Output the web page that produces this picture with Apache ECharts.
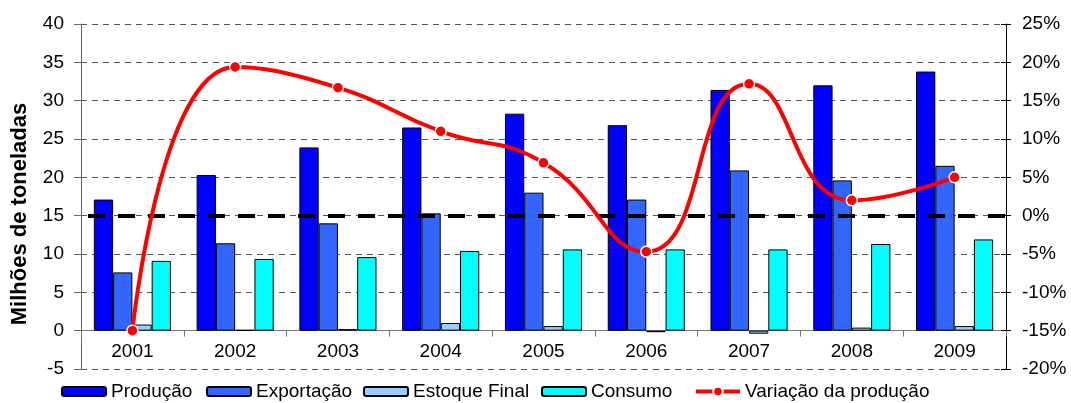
<!DOCTYPE html>
<html>
<head>
<meta charset="utf-8">
<script src="https://cdn.jsdelivr.net/npm/echarts@6/dist/echarts.min.js"></script>
<style>
  html, body { margin: 0; padding: 0; background: #fff; }
  #chart { width: 1071px; height: 403px; }
</style>
</head>
<body>
<div id="chart"></div>
<script>
// Anos
const years = ['2001', '2002', '2003', '2004', '2005', '2006', '2007', '2008', '2009'];
// Milhões de toneladas
const producao   = [17.1, 20.3, 23.9, 26.5, 28.3, 26.8, 31.4, 32.0, 33.8];
const exportacao = [7.6, 11.4, 14.0, 15.3, 18.0, 17.1, 20.9, 19.6, 21.5];
const estoque    = [0.8, 0.1, 0.2, 1.0, 0.6, -0.2, -0.4, 0.4, 0.6];
const consumo    = [9.1, 9.35, 9.6, 10.4, 10.6, 10.6, 10.6, 11.3, 11.9];
// Variação anual da produção (%)
const variacao   = [-15.0, 19.4, 16.7, 11.0, 6.9, -4.7, 17.2, 2.0, 5.0];

const FONT = '"Liberation Sans", Arial, sans-serif';
const GRID_TOP = 24, GRID_BOTTOM = 34, HEIGHT = 403;
const LEFT_MIN = -5, LEFT_MAX = 40;
// the category axis sits on the zero line of the left axis
const plotH = HEIGHT - GRID_TOP - GRID_BOTTOM;
const zeroLift = plotH * (0 - LEFT_MIN) / (LEFT_MAX - LEFT_MIN);

const chart = echarts.init(document.getElementById('chart'), null, { renderer: 'canvas' });

function barSeries(name, data, color) {
  return {
    name, type: 'bar', data, yAxisIndex: 0,
    barGap: '0%', barCategoryGap: '25%',
    itemStyle: { color, borderColor: '#000', borderWidth: 1 },
    z: 2
  };
}

function legendAt(name, left, extra) {
  return Object.assign({
    data: [name], left, top: 382, itemWidth: 44, itemHeight: 9, itemGap: 6,
    padding: 0,
    textStyle: { fontFamily: FONT, fontSize: 19, color: '#000' }
  }, extra || {});
}

chart.setOption({
  animation: false,
  backgroundColor: '#fff',
  grid: { left: 81, right: 65, top: GRID_TOP, bottom: GRID_BOTTOM, containLabel: false },
  legend: [
    legendAt('Produção', 61),
    legendAt('Exportação', 206),
    legendAt('Estoque Final', 363),
    legendAt('Consumo', 541),
    legendAt('Variação da produção', 694, {
      itemHeight: 12,
      lineStyle: { width: 4, color: '#FF0000' }
    })
  ],
  graphic: [{
    type: 'text', x: 20, y: 214, rotation: Math.PI / 2,
    style: {
      text: 'Milhões de toneladas', fill: '#000',
      font: 'bold 22px ' + FONT, textAlign: 'center', textVerticalAlign: 'middle'
    }
  }],
  xAxis: {
    type: 'category', data: years, position: 'bottom', offset: -zeroLift,
    axisLine: { onZero: false, lineStyle: { color: '#777', width: 1 } },
    axisTick: { show: true, length: 6, lineStyle: { color: '#777' } },
    axisLabel: { fontFamily: FONT, fontSize: 19, color: '#000', margin: 12 },
    splitLine: { show: false }
  },
  yAxis: [
    {
      type: 'value', min: LEFT_MIN, max: LEFT_MAX, interval: 5, position: 'left',
      axisLine: { show: true, lineStyle: { color: '#666', width: 1 } },
      axisTick: { show: true, length: 7, lineStyle: { color: '#666' } },
      axisLabel: { fontFamily: FONT, fontSize: 19, color: '#000', margin: 17 },
      splitLine: { show: true, lineStyle: { color: '#555', width: 1, type: [6, 5] } }
    },
    {
      type: 'value', min: -20, max: 25, interval: 5, position: 'right',
      axisLine: { show: true, lineStyle: { color: '#000', width: 1 } },
      axisTick: { show: true, length: 5, lineStyle: { color: '#000' } },
      axisLabel: { fontFamily: FONT, fontSize: 19, color: '#000', margin: 16, formatter: '{value}%' },
      splitLine: { show: false }
    },
    {
      // inner half of the crossing ticks on the percentage axis
      type: 'value', min: -20, max: 25, interval: 5, position: 'right',
      axisLine: { show: false },
      axisTick: { show: true, inside: true, length: 5, lineStyle: { color: '#000' } },
      axisLabel: { show: false },
      splitLine: { show: false }
    }
  ],
  series: [
    barSeries('Produção', producao, '#0000FF'),
    barSeries('Exportação', exportacao, '#3366FF'),
    barSeries('Estoque Final', estoque, '#99CCFF'),
    barSeries('Consumo', consumo, '#00FFFF'),
    {
      name: 'Variação da produção', type: 'line', yAxisIndex: 1, data: variacao,
      smooth: 0.5,
      lineStyle: { color: '#FF0000', width: 4 },
      itemStyle: { color: '#FF0000', borderColor: '#fff', borderWidth: 1.5 },
      symbol: 'circle', symbolSize: 11,
      z: 5,
      markLine: {
        silent: true, symbol: 'none', label: { show: false },
        lineStyle: { color: '#000', width: 4, type: [17, 13], dashOffset: 23 },
        data: [{ yAxis: 0 }],
        z: 4
      }
    }
  ]
});
</script>
</body>
</html>
